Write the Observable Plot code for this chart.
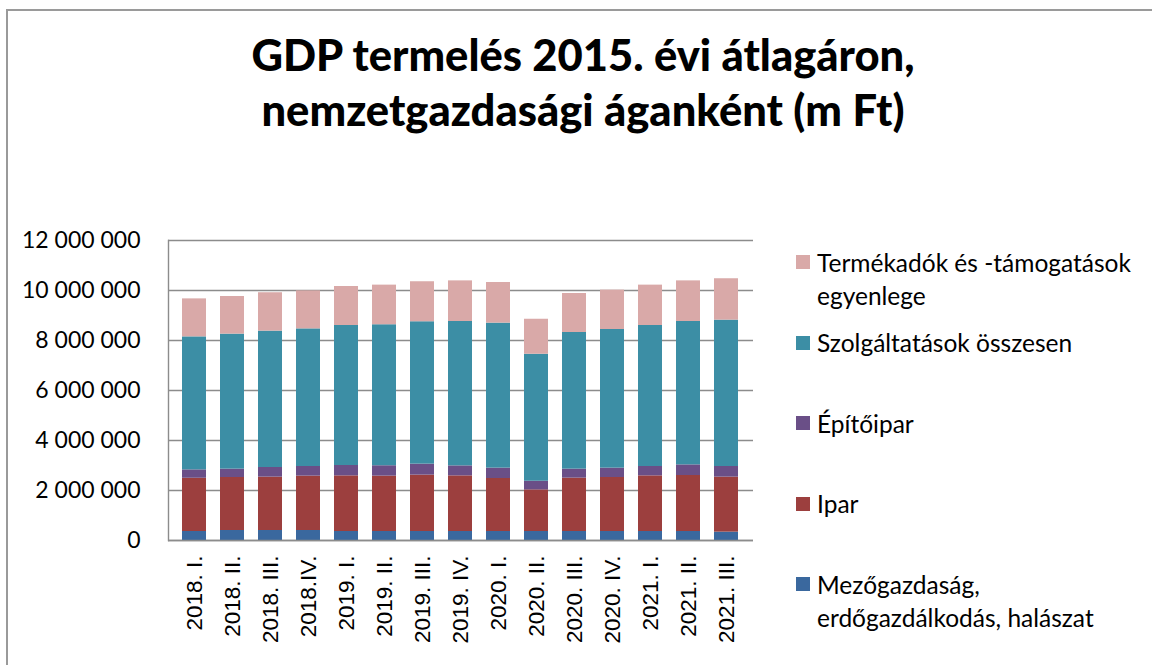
<!DOCTYPE html>
<html>
<head>
<meta charset="utf-8">
<script src="https://cdn.jsdelivr.net/npm/d3@7"></script>
<script src="https://cdn.jsdelivr.net/npm/@observablehq/plot@0.6"></script>
<style>
  html, body { margin: 0; padding: 0; background: #fff; }
  #wrap { position: relative; width: 1152px; height: 665px; overflow: hidden; font-family: Lato, sans-serif; }
  #border { position: absolute; left: 6px; top: 9px; width: 1200px; height: 700px; border-left: 2px solid #9a9a9a; border-top: 2px solid #9a9a9a; }
  #title { position: absolute; left: 0; width: 1166px; top: 27px; text-align: center; font-weight: 900; font-size: 43.5px; line-height: 55px; color: #000; }
  #chart { position: absolute; left: 0; top: 200px; }
  #legend { position: absolute; left: 796px; top: 245.5px; }
  .item { display: flex; align-items: flex-start; height: 80.5px; }
  .sw { width: 14px; height: 14px; margin-top: 9.5px; margin-right: 7px; flex: none; }
  .lab { font-size: 24.5px; line-height: 33px; color: #000; }
</style>
</head>
<body>
<div id="wrap">
  <div id="border"></div>
  <div id="title">GDP termelés 2015. évi átlagáron,<br>nemzetgazdasági áganként (m Ft)</div>
  <div id="chart"></div>
  <div id="legend"></div>
</div>
<script>
const quarters = ["2018. I.","2018. II.","2018. III.","2018.IV.","2019. I.","2019. II.","2019. III.","2019. IV.","2020. I.","2020. II.","2020. III.","2020. IV.","2021. I.","2021. II.","2021. III."];
const seriesNames = ["Mezőgazdaság, erdőgazdálkodás, halászat","Ipar","Építőipar","Szolgáltatások összesen","Termékadók és -támogatások egyenlege"];
const legendLabels = ["Mezőgazdaság,<br>erdőgazdálkodás, halászat","Ipar","Építőipar","Szolgáltatások összesen","Termékadók és -támogatások<br>egyenlege"];
const colors = ["#3a689e","#9c3f3e","#6a4f87","#3c8ea5","#d9a9a8"];

const agri  = [360000,400000,400000,400000,360000,360000,360000,360000,360000,360000,360000,360000,360000,360000,335000];
const ipar  = [2130000,2120000,2135000,2175000,2225000,2215000,2255000,2225000,2120000,1665000,2135000,2160000,2225000,2240000,2200000];
const epit  = [335000,335000,385000,385000,415000,415000,440000,400000,415000,345000,360000,375000,375000,425000,425000];
const szolg = [5320000,5400000,5455000,5505000,5600000,5640000,5695000,5775000,5800000,5080000,5465000,5545000,5640000,5735000,5855000];
const adok  = [1520000,1505000,1535000,1520000,1560000,1585000,1600000,1625000,1625000,1400000,1560000,1575000,1615000,1625000,1655000];
const yTicks = [0,2000000,4000000,6000000,8000000,10000000,12000000];

const seriesValues = [agri, ipar, epit, szolg, adok];
const rows = [];
seriesNames.forEach((s, i) => quarters.forEach((q, j) => rows.push({quarter: q, series: s, value: seriesValues[i][j]})));

const fmt = d => d3.format(",")(d).replace(/,/g, " ");

const chart = Plot.plot({
  width: 1152,
  height: 465,
  marginTop: 40,
  marginBottom: 125,
  marginLeft: 168,
  marginRight: 399,
  style: {background: "transparent"},
  x: {domain: quarters, padding: 0.36, label: null},
  y: {domain: [0, 12000000], label: null},
  color: {domain: seriesNames, range: colors},
  marks: [
    Plot.gridY(yTicks, {stroke: "#8c8c8c", strokeOpacity: 1, strokeWidth: 1.4}),
    Plot.barY(rows, {x: "quarter", y: "value", fill: "series", order: seriesNames}),
    Plot.ruleY([0], {stroke: "#8c8c8c", strokeWidth: 1.4}),
    Plot.frame({anchor: "left", stroke: "#8c8c8c", strokeWidth: 1.4}),
    Plot.axisY(yTicks, {tickSize: 0, tickPadding: 28, tickFormat: fmt, fontSize: 23, fontFamily: "Lato", fill: "#000", label: null}),
    Plot.axisX({tickSize: 0, tickPadding: 15, tickRotate: -90, fontSize: 22.5, fontFamily: "Liberation Sans", fill: "#000", label: null})
  ]
});
document.getElementById("chart").appendChild(chart);

const legend = document.getElementById("legend");
seriesNames.slice().reverse().forEach((s, k) => {
  const i = seriesNames.length - 1 - k;
  const item = document.createElement("div");
  item.className = "item";
  item.innerHTML = `<div class="sw" style="background:${colors[i]}"></div><div class="lab">${legendLabels[i]}</div>`;
  legend.appendChild(item);
});
</script>
</body>
</html>
